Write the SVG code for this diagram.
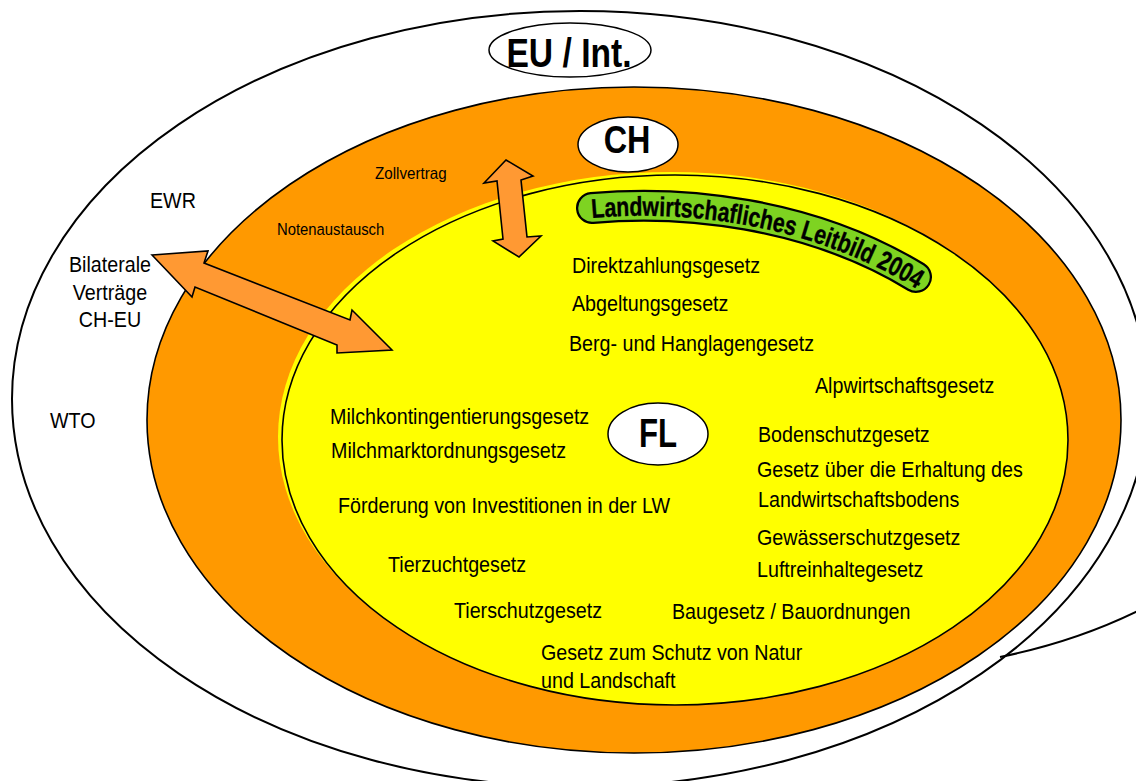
<svg xmlns="http://www.w3.org/2000/svg" width="1136" height="781" viewBox="0 0 1136 781">
<style>
.t{font-family:"Liberation Sans",Arial,sans-serif;font-size:22px;fill:#000}
.s{font-family:"Liberation Sans",Arial,sans-serif;font-size:16.5px;fill:#000}
.b{font-family:"Liberation Sans",Arial,sans-serif;font-weight:bold;fill:#000;text-anchor:middle}
.bn{font-family:"Liberation Sans",Arial,sans-serif;font-weight:bold;font-size:27px;fill:#000;stroke:#000;stroke-width:0.4}
.lbl{fill:#fff;stroke:#000;stroke-width:1.5}
.arr{fill:#ff9933;stroke:#000;stroke-width:1.6;stroke-linejoin:miter}
</style>
<defs>
<path id="bannerText" d="M592,218 C681,210 810,221 925,294"/>
</defs>
<rect width="1136" height="781" fill="#fff"/>
<g id="eu">
<ellipse cx="580" cy="399" rx="568" ry="388" fill="#fff" stroke="#000" stroke-width="2"/>
<path d="M1000,657 Q1075,642 1140,610" fill="none" stroke="#000" stroke-width="2"/>
<ellipse class="lbl" cx="570" cy="50" rx="81" ry="27"/>
<text class="b" font-size="41" transform="translate(569 67) scale(0.82 1)">EU / Int.</text>
<text class="t" transform="translate(150 208) scale(0.895 1)">EWR</text>
<text class="t" text-anchor="middle" transform="translate(110 272) scale(0.895 1)">Bilaterale</text>
<text class="t" text-anchor="middle" transform="translate(110 300) scale(0.895 1)">Verträge</text>
<text class="t" text-anchor="middle" transform="translate(110 327) scale(0.895 1)">CH-EU</text>
<text class="t" transform="translate(50 428) scale(0.895 1)">WTO</text>
</g>
<g id="ch">
<ellipse cx="634" cy="420" rx="487" ry="333" fill="#ff9900" stroke="#000" stroke-width="1.6"/>
<ellipse class="lbl" cx="628" cy="144.5" rx="50" ry="27.5"/>
<text class="b" font-size="39" transform="translate(627 153) scale(0.83 1)">CH</text>
<text class="s" transform="translate(375 179) scale(0.92 1)">Zollvertrag</text>
<text class="s" transform="translate(277 235) scale(0.9 1)">Notenaustausch</text>
</g>
<g id="fl">
<ellipse cx="671" cy="437" rx="393" ry="265" fill="#ffff00"/>
<ellipse cx="675" cy="440" rx="393" ry="265" fill="#ffff00" stroke="#000" stroke-width="1.6"/>
<ellipse class="lbl" cx="658" cy="434" rx="50" ry="31"/>
<text class="b" font-size="40" transform="translate(658 447) scale(0.78 1)">FL</text>
<text class="t" transform="translate(572 273) scale(0.895 1)">Direktzahlungsgesetz</text>
<text class="t" transform="translate(572 311) scale(0.895 1)">Abgeltungsgesetz</text>
<text class="t" transform="translate(569 351) scale(0.895 1)">Berg- und Hanglagengesetz</text>
<text class="t" transform="translate(815 393) scale(0.895 1)">Alpwirtschaftsgesetz</text>
<text class="t" transform="translate(330 424) scale(0.895 1)">Milchkontingentierungsgesetz</text>
<text class="t" transform="translate(331 458) scale(0.895 1)">Milchmarktordnungsgesetz</text>
<text class="t" transform="translate(338 513) scale(0.895 1)">Förderung von Investitionen in der LW</text>
<text class="t" transform="translate(758 442) scale(0.895 1)">Bodenschutzgesetz</text>
<text class="t" transform="translate(757 477) scale(0.895 1)">Gesetz über die Erhaltung des</text>
<text class="t" transform="translate(758 507) scale(0.895 1)">Landwirtschaftsbodens</text>
<text class="t" transform="translate(757 545) scale(0.895 1)">Gewässerschutzgesetz</text>
<text class="t" transform="translate(757 577) scale(0.895 1)">Luftreinhaltegesetz</text>
<text class="t" transform="translate(388 572) scale(0.895 1)">Tierzuchtgesetz</text>
<text class="t" transform="translate(454 618) scale(0.895 1)">Tierschutzgesetz</text>
<text class="t" transform="translate(672 619) scale(0.895 1)">Baugesetz / Bauordnungen</text>
<text class="t" transform="translate(541 660) scale(0.895 1)">Gesetz zum Schutz von Natur</text>
<text class="t" transform="translate(541 688) scale(0.895 1)">und Landschaft</text>
</g>
<g id="leitbild">
<path d="M592,208 C680,200 808,211 916,277" fill="none" stroke="#000" stroke-width="32" stroke-linecap="round"/>
<path d="M592,208 C680,200 808,211 916,277" fill="none" stroke="#7ed321" stroke-width="27.5" stroke-linecap="round"/>
<text class="bn"><textPath href="#bannerText" startOffset="0" textLength="204" lengthAdjust="spacingAndGlyphs">Landwirtschafliches</textPath></text>
<text class="bn"><textPath href="#bannerText" startOffset="210" textLength="75" lengthAdjust="spacingAndGlyphs">Leitbild</textPath></text>
<text class="bn"><textPath href="#bannerText" startOffset="291" textLength="47" lengthAdjust="spacingAndGlyphs">2004</textPath></text>
</g>
<g id="connectors">
<polygon class="arr" points="152,255 208,251 204,263 350,320 352,310 392,350 337,353 337,345 195,287 192,297"/>
<polygon class="arr" points="506,160 533,176 521,180 527,237 541,236 519,257 493,241 503,239 497,181 484,183"/>
</g>
</svg>
